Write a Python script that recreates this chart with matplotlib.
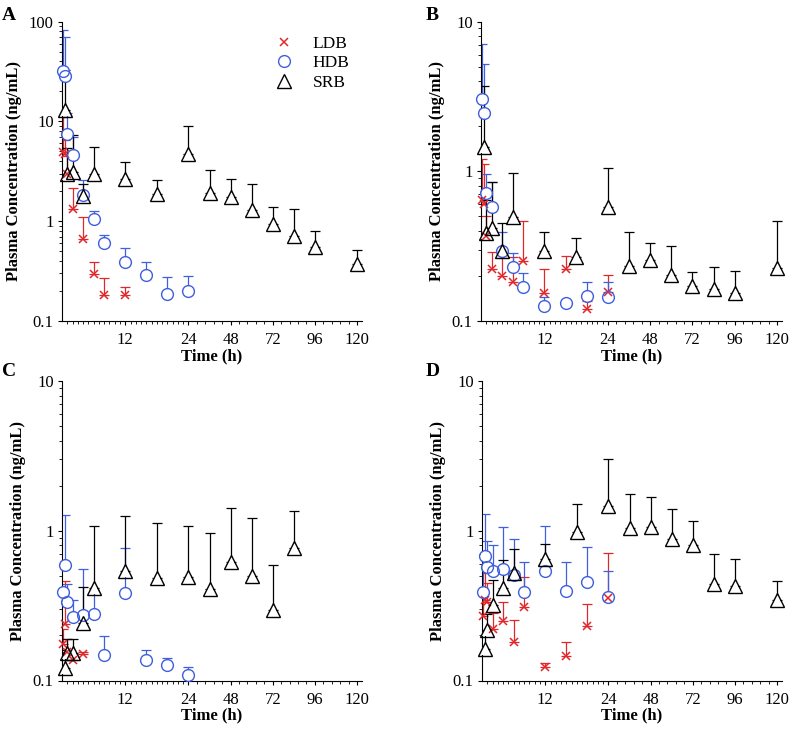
import numpy as np
import matplotlib
matplotlib.use("Agg")
import matplotlib.pyplot as plt
from matplotlib.lines import Line2D

plt.rcParams['font.family'] = ['Liberation Serif', 'DejaVu Serif']

# ---------------- data ----------------
T_DB = [0.167, 0.5, 1, 2, 4, 6, 8, 12, 16, 20, 24]
T_SRB = [0.5, 1, 2, 4, 6, 12, 18, 24, 36, 48, 60, 72, 84, 96, 120]

# Panel A
A_LDB_T = [0.167, 0.5, 1, 2, 4, 6, 8, 12]
A_LDB = [4.9, 4.7, 3.0, 1.32, 0.67, 0.294, 0.182, 0.182]
A_LDB_UP = [11.0, 6.5, 4.5, 2.14, 1.09, 0.39, 0.27, 0.217]
A_HDB = [32, 28.5, 7.4, 4.6, 1.83, 1.06, 0.60, 0.387, 0.287, 0.188, 0.20]
A_HDB_UP = [82, 69.6, 12, 7, 2.6, 1.27, 0.73, 0.535, 0.393, 0.274, 0.284]
A_SRB = [13, 3.0, 3.13, 1.79, 2.97, 2.65, 1.89, 4.68, 1.93, 1.76, 1.29, 0.944, 0.716, 0.547, 0.372]
A_SRB_UP = [33, 5.4, 7.3, 2.34, 5.5, 3.89, 2.6, 8.9, 3.24, 2.67, 2.34, 1.38, 1.33, 0.79, 0.51]

# Panel B
B_LDB = [0.64, 0.60, 0.37, 0.222, 0.20, 0.181, 0.252, 0.153, 0.222, 0.121, 0.155]
B_LDB_UP = [1.2, 1.12, 0.5, 0.287, 0.27, 0.268, 0.466, 0.222, 0.273, 0.135, 0.203]
B_HDB = [3.05, 2.46, 0.72, 0.573, 0.294, 0.228, 0.169, 0.126, 0.131, 0.147, 0.145]
B_HDB_UP = [7.1, 5.2, 0.96, 0.85, 0.39, 0.283, 0.208, 0.145, 0.131, 0.181, 0.181]
B_SRB = [1.45, 0.384, 0.415, 0.294, 0.495, 0.294, 0.266, 0.578, 0.234, 0.255, 0.203, 0.172, 0.163, 0.153, 0.225]
B_SRB_UP = [3.7, 0.64, 0.85, 0.448, 0.975, 0.39, 0.361, 1.05, 0.394, 0.33, 0.316, 0.211, 0.23, 0.217, 0.466]

# Panel C
C_LDB_T = [0.167, 0.5, 1, 2, 4]
C_LDB = [0.174, 0.24, 0.155, 0.138, 0.15]
C_LDB_UP = [0.22, 0.46, 0.19, 0.15, 0.155]
C_HDB = [0.39, 0.588, 0.334, 0.265, 0.275, 0.279, 0.149, 0.386, 0.137, 0.126, 0.109]
C_HDB_UP = [0.39, 1.27, 0.444, 0.343, 0.553, 0.40, 0.198, 0.772, 0.159, 0.142, 0.123]
C_SRB_T = [0.5, 1, 2, 4, 6, 12, 18, 24, 36, 48, 60, 72, 84]
C_SRB = [0.122, 0.153, 0.153, 0.243, 0.414, 0.536, 0.486, 0.494, 0.406, 0.622, 0.496, 0.294, 0.767]
C_SRB_UP = [0.16, 0.188, 0.188, 0.421, 1.08, 1.26, 1.13, 1.08, 0.973, 1.41, 1.22, 0.594, 1.36]

# Panel D
D_LDB = [0.271, 0.345, 0.333, 0.221, 0.251, 0.182, 0.308, 0.124, 0.146, 0.231, 0.354]
D_LDB_UP = [0.40, 0.52, 0.45, 0.281, 0.336, 0.253, 0.489, 0.131, 0.182, 0.324, 0.713]
D_HDB = [0.392, 0.678, 0.575, 0.538, 0.555, 0.507, 0.392, 0.538, 0.395, 0.453, 0.36]
D_HDB_UP = [0.55, 1.29, 0.855, 0.80, 1.06, 0.88, 0.615, 1.08, 0.615, 0.783, 0.541]
D_SRB = [0.162, 0.217, 0.319, 0.417, 0.52, 0.648, 0.986, 1.46, 1.04, 1.06, 0.877, 0.803, 0.439, 0.428, 0.345]
D_SRB_UP = [0.21, 0.278, 0.469, 0.638, 0.752, 0.816, 1.5, 3.0, 1.76, 1.67, 1.39, 1.17, 0.696, 0.648, 0.464]

X_TICKS = [12, 24, 48, 72, 96, 120]
X_TICK_LABELS = ['12', '24', '48', '72', '96', '120']
GROUPS = ['LDB', 'HDB', 'SRB']
PANEL_LABELS = ['A', 'B', 'C', 'D']

# ---------------- styles ----------------
RED = '#e0282c'
BLUE = '#3f5fdc'
BLACK = '#000000'
STYLE = {
    'LDB': dict(marker='x', color=RED, ms=6, mew=1.1, mfc=RED, hollow=False),
    'HDB': dict(marker='o', color=BLUE, ms=8.5, mew=1.0, mfc='none', hollow=True),
    'SRB': dict(marker='^', color=BLACK, ms=10, mew=1.0, mfc='none', hollow=True),
}


def fwd(t):
    t = np.asarray(t, dtype=float)
    return np.where(t <= 24, t, 24 + (t - 24) / 3.0)


def inv(u):
    u = np.asarray(u, dtype=float)
    return np.where(u <= 24, u, 24 + (u - 24) * 3.0)


fig = plt.figure(figsize=(7.98, 7.29), dpi=100)

W, H = 798.0, 729.0
boxes = [(62, 21.5, 362, 321), (481, 21.5, 782, 321),
         (62, 381, 362, 680.5), (482, 381, 782, 680.5)]
letter_pos = [(2, 7), (426, 7), (2, 363), (426, 363)]

panels = [
    dict(ylim=(0.1, 100), yt=[0.1, 1, 10, 100], ytl=['0.1', '1', '10', '100'],
         series=[(A_LDB_T, A_LDB, A_LDB_UP), (T_DB, A_HDB, A_HDB_UP), (T_SRB, A_SRB, A_SRB_UP)]),
    dict(ylim=(0.1, 10), yt=[0.1, 1, 10], ytl=['0.1', '1', '10'],
         series=[(T_DB, B_LDB, B_LDB_UP), (T_DB, B_HDB, B_HDB_UP), (T_SRB, B_SRB, B_SRB_UP)]),
    dict(ylim=(0.1, 10), yt=[0.1, 1, 10], ytl=['0.1', '1', '10'],
         series=[(C_LDB_T, C_LDB, C_LDB_UP), (T_DB, C_HDB, C_HDB_UP), (C_SRB_T, C_SRB, C_SRB_UP)]),
    dict(ylim=(0.1, 10), yt=[0.1, 1, 10], ytl=['0.1', '1', '10'],
         series=[(T_DB, D_LDB, D_LDB_UP), (T_DB, D_HDB, D_HDB_UP), (T_SRB, D_SRB, D_SRB_UP)]),
]

minor_x = list(np.arange(1, 24, 1)) + list(np.arange(28.8, 122, 4.8))

for i, (p, b) in enumerate(zip(panels, boxes)):
    x0, y0, x1, y1 = b
    ax = fig.add_axes([x0 / W, 1 - y1 / H, (x1 - x0) / W, (y1 - y0) / H])
    ax.set_xscale('function', functions=(fwd, inv))
    ax.set_yscale('log')
    # layer 1: error bars (upper only)
    for g, (t, m, up) in zip(GROUPS, p['series']):
        st = STYLE[g]
        m_arr = np.array(m, float)
        up_arr = np.array(up, float)
        err = np.vstack([np.zeros_like(m_arr), np.clip(up_arr - m_arr, 0, None)])
        ax.errorbar(t, m_arr, yerr=err, fmt='none', ecolor=st['color'],
                    elinewidth=0.9, capsize=3.5, capthick=0.9, zorder=2)
    # layer 2: white interiors for hollow markers
    for g, (t, m, up) in zip(GROUPS, p['series']):
        st = STYLE[g]
        if st['hollow']:
            ax.plot(t, m, linestyle='none', marker=st['marker'], markersize=st['ms'] - 0.8,
                    markeredgewidth=0, markerfacecolor='white', zorder=3, clip_on=False)
    # layer 3: marker outlines
    for g, (t, m, up) in zip(GROUPS, p['series']):
        st = STYLE[g]
        ax.plot(t, m, linestyle='none', marker=st['marker'], markersize=st['ms'],
                markeredgewidth=st['mew'], markeredgecolor=st['color'],
                markerfacecolor=st['mfc'], zorder=4, clip_on=False)
    ax.set_xlim(0, 122.8)
    ax.set_ylim(*p['ylim'])
    ax.set_xticks(X_TICKS)
    ax.set_xticklabels(X_TICK_LABELS)
    ax.set_xticks(minor_x, minor=True)
    ax.set_yticks(p['yt'])
    ax.set_yticklabels(p['ytl'])
    ax.spines['top'].set_visible(False)
    ax.spines['right'].set_visible(False)
    ax.tick_params(axis='both', which='major', direction='out', length=3, width=0.8,
                   labelsize=12)
    ax.tick_params(axis='x', which='major', pad=5)
    ax.tick_params(axis='y', which='major', pad=3)
    ax.tick_params(axis='both', which='minor', direction='out', length=2, width=0.6)
    ax.set_xlabel('Time (h)', fontsize=12, fontweight='bold', labelpad=0)
    ax.set_ylabel('Plasma Concentration (ng/mL)', fontsize=12, fontweight='bold', labelpad=5)
    lx, ly = letter_pos[i]
    fig.text(lx / W, 1 - ly / H, PANEL_LABELS[i], fontsize=14, fontweight='bold',
             va='top', ha='left')
    if i == 0:
        handles = [Line2D([], [], linestyle='none', marker=STYLE[g]['marker'],
                          markersize=STYLE[g]['ms'], markeredgewidth=STYLE[g]['mew'],
                          markeredgecolor=STYLE[g]['color'], markerfacecolor=STYLE[g]['mfc'])
                   for g in GROUPS]
        ax.legend(handles, GROUPS, loc='upper right', bbox_to_anchor=(0.987, 0.982),
                  frameon=False, fontsize=12.5, handletextpad=0.9, labelspacing=0.2,
                  borderpad=0, handlelength=1.5)

fig.savefig('out.png', dpi=100)
